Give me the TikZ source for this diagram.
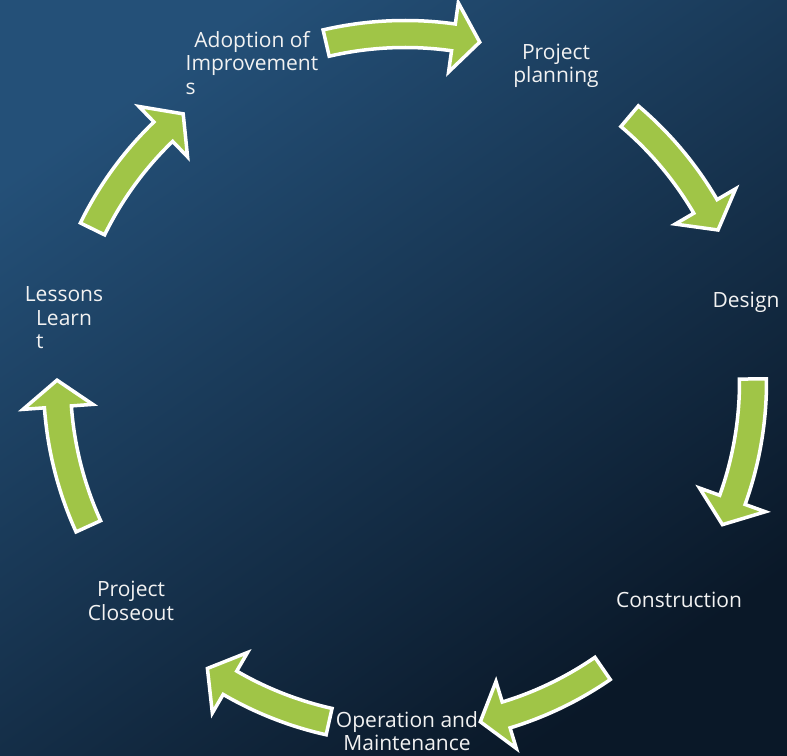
\documentclass[tikz,border=0pt]{standalone}
\usepackage{fontspec}
\setmainfont{Open Sans}
\definecolor{bgL}{RGB}{36,80,120}
\definecolor{bgM}{RGB}{20,46,74}
\definecolor{bgR}{RGB}{10,24,40}
\definecolor{arrowgreen}{RGB}{160,197,71}
\definecolor{labeltext}{RGB}{242,242,242}
\tikzset{
  cyclelabel/.style={text=labeltext, align=center, inner sep=0pt,
    font=\fontsize{21}{23.5}\selectfont},
  cyclearrow/.style={fill=arrowgreen, draw=white, line width=3.5pt, line join=miter}
}
% #1 tail angle, #2 tip angle (clockwise arrow around C)
\newcommand\cycarrow[2]{%
  \pgfmathsetmacro\tl{#1}%
  \pgfmathsetmacro\tp{#2}%
  \pgfmathsetmacro\hb{#2+4.4}%
  \draw[cyclearrow, shift={(C)}]
    (\tl:361.5) arc[start angle=\tl, end angle=\hb, radius=361.5]
    -- (\hb:383) -- (\tp:348) -- (\hb:313) -- (\hb:334.5)
    arc[start angle=\hb, end angle=\tl, radius=334.5] -- cycle;}
\begin{document}
\begin{tikzpicture}[x=1pt,y=1pt]
\shade[left color=bgL, middle color=bgM, right color=bgR, shading angle=35] (0,0) rectangle (787,755);
\useasboundingbox (0,0) rectangle (787,755);
\coordinate (C) at (405,373);
% labels
\node[cyclelabel] (plan) at (556,689) {Project\\planning};
\node[cyclelabel] (design) at (746,453) {Design};
\node[cyclelabel] (constr) at (679,155) {Construction};
\node[cyclelabel] (opm) at (407,24) {Operation and\\Maintenance};
\node[cyclelabel] (close) at (131,154) {Project\\Closeout};
\node[cyclelabel] (lessons) at (64,437) {Lessons\\Learn\\\rlap{t}\phantom{Learn}};
\node[cyclelabel] (adopt) at (252,690) {Adoption of\\Improvement\\\rlap{s}\phantom{Improvement}};
% arrows
\cycarrow{103.1}{77.6}
\cycarrow{49.8}{25.9}
\cycarrow{0.5}{-24.2}
\cycarrow{-55.4}{-77.5}
\cycarrow{-102.6}{-124.6}
\cycarrow{-155.5}{-180.3}
\cycarrow{-206.1}{-230.4}
\end{tikzpicture}
\end{document}
